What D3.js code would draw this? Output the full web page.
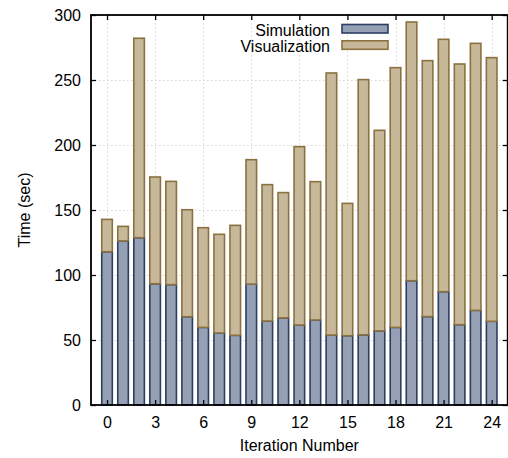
<!DOCTYPE html>
<html>
<head>
<meta charset="utf-8">
<script src="https://cdn.jsdelivr.net/npm/d3@7"></script>
<style>
  html, body { margin: 0; padding: 0; background: #fff; }
  svg { display: block; font-family: "Liberation Sans", Arial, sans-serif; }
</style>
</head>
<body>
<svg id="chart" width="508" height="458"></svg>
<script>
// Per-iteration timings (seconds)
const iterations = d3.range(0, 25);
const simulation = [117.9, 126.2, 128.7, 93.3, 92.6, 67.9, 59.7, 55.4, 53.6, 93.0,
                    64.6, 67.0, 61.5, 65.4, 53.8, 53.3, 54.0, 57.0, 59.7, 95.6,
                    68.0, 87.2, 61.8, 72.8, 64.4];
const visualization = [24.9, 11.2, 153.4, 82.1, 79.4, 82.3, 76.7, 75.9, 84.6, 95.7,
                       104.9, 96.4, 137.2, 106.4, 201.6, 101.8, 196.3, 154.3, 199.8, 199.0,
                       196.9, 194.1, 200.5, 205.4, 202.8];
const seriesNames = ["Simulation", "Visualization"];
const xTicks = d3.range(0, 25, 3);
const yTicks = [0, 50, 100, 150, 200, 250, 300];

const fills = { Simulation: "#96a0b4", Visualization: "#c8b89a" };
const strokes = { Simulation: "#2c3e64", Visualization: "#8b7140" };
const fontSize = 16;

const svg = d3.select("#chart");
const plotLeft = 91, plotRight = 507.7, plotTop = 15, plotBottom = 405;

const x = d3.scaleLinear().domain([-1, 25]).range([plotLeft, plotRight]);
const y = d3.scaleLinear().domain([0, 300]).range([plotBottom, plotTop]);

const rows = iterations.map((it, i) => ({
  it, Simulation: simulation[i], Visualization: visualization[i]
}));
const stacked = d3.stack().keys(seriesNames)(rows);

// dotted grid
const grid = svg.append("g")
  .attr("stroke", "#d8d8d8").attr("stroke-width", 1).attr("stroke-dasharray", "1.5,2.5");
grid.selectAll("line.h").data(yTicks.slice(1, -1)).join("line")
  .attr("x1", plotLeft).attr("x2", plotRight)
  .attr("y1", d => Math.round(y(d)) + 0.5).attr("y2", d => Math.round(y(d)) + 0.5);
grid.selectAll("line.v").data(xTicks).join("line")
  .attr("y1", plotTop).attr("y2", plotBottom)
  .attr("x1", d => Math.round(x(d)) + 0.5).attr("x2", d => Math.round(x(d)) + 0.5);

// stacked bars
const unit = x(1) - x(0);
const bw = unit * 0.66;
svg.append("g").selectAll("g").data(stacked).join("g")
  .attr("fill", s => fills[s.key])
  .attr("stroke", s => strokes[s.key])
  .attr("stroke-width", 1.6)
  .selectAll("rect").data(s => s).join("rect")
  .attr("x", d => x(d.data.it) - bw / 2)
  .attr("width", bw)
  .attr("y", d => y(d[1]))
  .attr("height", d => y(d[0]) - y(d[1]));

// axes with inward ticks
const axisFont = g => g.selectAll("text")
  .attr("font-size", fontSize).attr("fill", "#000")
  .attr("font-family", "'Liberation Sans', Arial, sans-serif");

svg.append("g")
  .attr("transform", `translate(${plotLeft},0)`)
  .call(d3.axisLeft(y).tickValues(yTicks).tickSize(-5).tickPadding(10))
  .call(g => g.select(".domain").remove())
  .call(axisFont);

svg.append("g")
  .attr("transform", `translate(0,${plotBottom})`)
  .call(d3.axisBottom(x).tickValues(xTicks).tickSize(-5).tickPadding(11.5))
  .call(g => g.select(".domain").remove())
  .call(axisFont);

// mirrored ticks on top and right
svg.append("g")
  .attr("transform", `translate(0,${plotTop})`)
  .call(d3.axisTop(x).tickValues(xTicks).tickSize(-5).tickFormat(""))
  .call(g => g.select(".domain").remove());
svg.append("g")
  .attr("transform", `translate(${plotRight},0)`)
  .call(d3.axisRight(y).tickValues(yTicks).tickSize(-5).tickFormat(""))
  .call(g => g.select(".domain").remove());

svg.selectAll(".tick line").attr("stroke", "#000").attr("stroke-width", 1.3);

// frame
svg.append("rect")
  .attr("x", plotLeft).attr("y", plotTop)
  .attr("width", plotRight - plotLeft).attr("height", plotBottom - plotTop)
  .attr("fill", "none").attr("stroke", "#000").attr("stroke-width", 1.8);

// axis titles
svg.append("text")
  .attr("x", (plotLeft + plotRight) / 2).attr("y", 451)
  .attr("text-anchor", "middle").attr("font-size", fontSize)
  .text("Iteration Number");
svg.append("text")
  .attr("transform", `translate(30,${(plotTop + plotBottom) / 2}) rotate(-90)`)
  .attr("text-anchor", "middle").attr("font-size", fontSize)
  .text("Time (sec)");

// legend
const legend = svg.append("g");
seriesNames.forEach((name, i) => {
  const rowY = 24.5 + i * 16.3;
  legend.append("text")
    .attr("x", 330).attr("y", rowY + 11.5)
    .attr("text-anchor", "end").attr("font-size", fontSize)
    .text(name);
  legend.append("rect")
    .attr("x", 342).attr("y", rowY)
    .attr("width", 46).attr("height", 8.5)
    .attr("fill", fills[name]).attr("stroke", strokes[name]).attr("stroke-width", 1.6);
});
</script>
</body>
</html>
